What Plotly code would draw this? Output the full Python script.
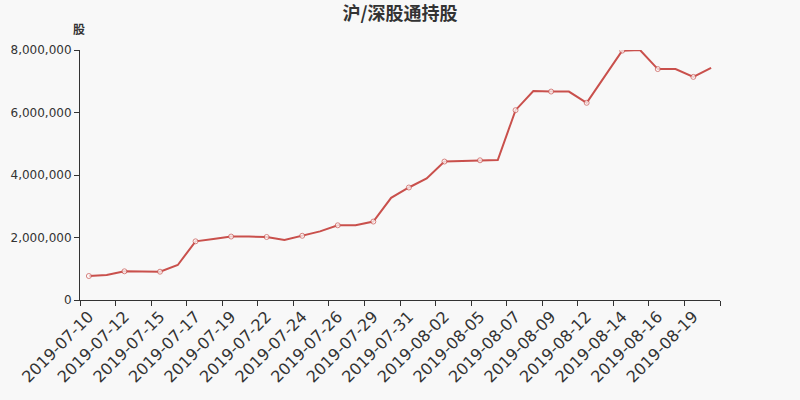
import plotly.graph_objects as go

dates = ['2019-07-10', '2019-07-11', '2019-07-12', '2019-07-13', '2019-07-15', '2019-07-16',
         '2019-07-17', '2019-07-18', '2019-07-19', '2019-07-20', '2019-07-22', '2019-07-23',
         '2019-07-24', '2019-07-25', '2019-07-26', '2019-07-27', '2019-07-29', '2019-07-30',
         '2019-07-31', '2019-08-01', '2019-08-02', '2019-08-03', '2019-08-05', '2019-08-06',
         '2019-08-07', '2019-08-08', '2019-08-09', '2019-08-10', '2019-08-12', '2019-08-13',
         '2019-08-14', '2019-08-15', '2019-08-16', '2019-08-17', '2019-08-19', '2019-08-20']

shares = [768000, 800000, 918000, 915000, 906000, 1120000,
          1877000, 1950000, 2030000, 2030000, 2016000, 1920000,
          2055000, 2195000, 2390000, 2390000, 2510000, 3270000,
          3600000, 3890000, 4430000, 4450000, 4470000, 4480000,
          6075000, 6685000, 6670000, 6670000, 6310000, 7160000,
          7980000, 8000000, 7390000, 7390000, 7140000, 7430000]

# echarts style: symbols only on labelled points
sizes = [5 if i % 2 == 0 else 0 for i in range(len(dates))]

fig = go.Figure()
fig.add_trace(go.Scatter(
    x=dates, y=shares, mode='lines+markers',
    line=dict(color='#c9504c', width=2),
    marker=dict(size=sizes, color='white', line=dict(color='#c9504c', width=1)),
    hoverinfo='x+y'
))

fig.update_layout(
    width=800, height=400,
    paper_bgcolor='#f8f8f8', plot_bgcolor='#f8f8f8',
    margin=dict(l=80, r=80, t=50, b=100),
    font=dict(family='Noto Sans CJK SC', color='#333333'),
    title=dict(text='<b>沪/深股通持股</b>', x=0.5, xanchor='center', y=0.965, yanchor='middle',
               font=dict(size=18, color='#333333')),
    showlegend=False,
    xaxis=dict(
        type='category', tickmode='linear', dtick=2, tick0=0,
        tickson='boundaries', ticks='outside', ticklen=5, tickcolor='#333333',
        showline=True, linecolor='#333333', linewidth=1,
        showgrid=False, zeroline=False, automargin=False,
        tickangle=-45, tickfont=dict(family='DejaVu Sans', size=16, color='#333333'),
        range=[-0.5, len(dates) - 0.5]
    ),
    yaxis=dict(
        range=[0, 8000000], dtick=2000000, tickformat=',d',
        ticks='outside', ticklen=5, tickcolor='#333333',
        showline=True, linecolor='#333333', linewidth=1,
        showgrid=False, zeroline=False, automargin=False,
        tickfont=dict(family='DejaVu Sans', size=12, color='#333333')
    ),
    annotations=[dict(text='<b>股</b>', xref='paper', yref='paper', x=-0.002, y=1.084,
                      xanchor='center', yanchor='middle', showarrow=False,
                      font=dict(size=12, color='#333333'))]
)

fig.write_html('out.html', config={'displayModeBar': False},
               post_script="document.body.style.margin='0';document.body.style.background='#f8f8f8';")
